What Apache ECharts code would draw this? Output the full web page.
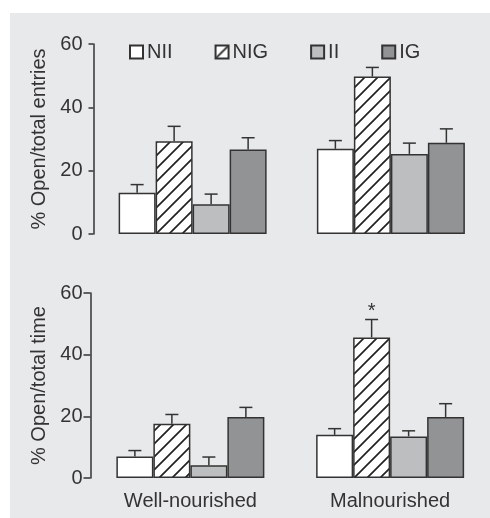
<!DOCTYPE html>
<html>
<head>
<meta charset="utf-8">
<script src="https://cdn.jsdelivr.net/npm/echarts@6/dist/echarts.min.js"></script>
<style>
  html, body { margin: 0; padding: 0; background: #fff; }
  #bg { position: absolute; left: 10px; top: 13px; width: 480px; height: 505px; background: #e8e9eb; }
  #chart { position: absolute; left: 0; top: 0; width: 490px; height: 518px; }
</style>
</head>
<body>
<div id="bg"></div>
<div id="chart"></div>
<script>
// groups on the x axis
const groups = ["Well-nourished", "Malnourished"];
const seriesNames = ["NII", "NIG", "II", "IG"];
const yTicks = [0, 20, 40, 60];

// % open / total entries  (rows follow seriesNames, cols follow groups)
const entriesMean = [
  [13.0, 26.9],
  [29.3, 49.7],
  [9.4, 25.3],
  [26.7, 28.8],
];
const entriesSem = [
  [2.6, 2.6],
  [4.7, 2.9],
  [3.2, 3.4],
  [3.7, 4.4],
];

// % open / total time
const timeMean = [
  [7.0, 14.0],
  [17.6, 45.6],
  [4.1, 13.5],
  [19.8, 19.8],
];
const timeSem = [
  [1.9, 2.0],
  [3.0, 5.8],
  [2.7, 1.8],
  [3.1, 4.3],
];
// significance marks (*) on the time panel
const timeSig = [
  [0, 0],
  [0, 1],
  [0, 0],
  [0, 0],
];

const BAR_W = 37;
const INK = "#333";

function hatch() {
  const s = 13;
  const c = document.createElement("canvas");
  c.width = s;
  c.height = s;
  const g = c.getContext("2d");
  g.fillStyle = "#fff";
  g.fillRect(0, 0, s, s);
  g.strokeStyle = "#222";
  g.lineWidth = 1.7;
  g.beginPath();
  g.moveTo(-1, s + 1);
  g.lineTo(s + 1, -1);
  g.moveTo(-2, 2);
  g.lineTo(2, -2);
  g.moveTo(s - 2, s + 2);
  g.lineTo(s + 2, s - 2);
  g.stroke();
  return c;
}

const fills = ["#ffffff", { image: hatch(), repeat: "repeat" }, "#bdbec0", "#929395"];

function barSeries(means, axis) {
  return seriesNames.map((name, i) => ({
    name,
    type: "bar",
    xAxisIndex: axis,
    yAxisIndex: axis,
    barWidth: BAR_W,
    barGap: "0%",
    data: means[i],
    itemStyle: { color: fills[i], borderColor: INK, borderWidth: 1.5 },
    emphasis: { disabled: true },
  }));
}

function errSeries(means, sems, sig, axis) {
  const data = [];
  seriesNames.forEach((n, i) => {
    groups.forEach((g, j) => {
      data.push([j, i, means[i][j], sems[i][j], sig ? sig[i][j] : 0]);
    });
  });
  return {
    type: "custom",
    xAxisIndex: axis,
    yAxisIndex: axis,
    silent: true,
    z: 5,
    encode: { x: 0, y: 2 },
    data,
    renderItem(params, api) {
      const g = api.value(0);
      const s = api.value(1);
      const m = api.value(2);
      const e = api.value(3);
      const base = api.coord([g, m]);
      const top = api.coord([g, m + e]);
      const x = base[0] + (s - 1.5) * BAR_W;
      const style = { stroke: INK, lineWidth: 1.5 };
      const children = [
        { type: "line", shape: { x1: x, y1: base[1], x2: x, y2: top[1] }, style },
        { type: "line", shape: { x1: x - 6.5, y1: top[1], x2: x + 6.5, y2: top[1] }, style },
      ];
      if (api.value(4)) {
        children.push({
          type: "text",
          style: {
            text: "*",
            x: x,
            y: top[1] + 2,
            align: "center",
            verticalAlign: "bottom",
            fontSize: 20,
            fontFamily: "Liberation Sans",
            fill: INK,
          },
        });
      }
      return { type: "group", children };
    },
  };
}

const font = { fontFamily: "Liberation Sans", fontSize: 20, color: INK };

function yAxisOf(gridIndex, name, nameGap, tickLen, labelMargin) {
  return {
    type: "value",
    gridIndex,
    min: yTicks[0],
    max: yTicks[yTicks.length - 1],
    interval: 20,
    name,
    nameLocation: "middle",
    nameGap,
    nameTextStyle: font,
    axisLine: { show: true, lineStyle: { color: INK, width: 1.5 } },
    axisTick: { show: true, length: tickLen, lineStyle: { color: INK, width: 1.5 } },
    axisLabel: Object.assign({ margin: labelMargin }, font),
    splitLine: { show: false },
  };
}

const chart = echarts.init(document.getElementById("chart"));
chart.setOption({
  animation: false,
  textStyle: { fontFamily: "Liberation Sans" },
  legend: {
    data: seriesNames,
    left: 124,
    top: 37,
    icon: "rect",
    itemWidth: 13,
    itemHeight: 13,
    itemGap: 42,
    textStyle: Object.assign({ padding: [0, 0, 0, -1] }, font),
    selectedMode: false,
  },
  grid: [
    { left: 93.5, top: 44, width: 404, height: 190 },
    { left: 90.5, top: 293, width: 408, height: 185 },
  ],
  xAxis: [
    {
      type: "category",
      gridIndex: 0,
      data: groups,
      axisLine: { show: false },
      axisTick: { show: false },
      axisLabel: { show: false },
    },
    {
      type: "category",
      gridIndex: 1,
      data: groups,
      axisLine: { show: false },
      axisTick: { show: false },
      axisLabel: Object.assign({ margin: 13 }, font),
    },
  ],
  yAxis: [
    yAxisOf(0, "% Open/total entries", 37, 5, 11),
    yAxisOf(1, "% Open/total time", 34, 7, 8),
  ],
  series: [
    ...barSeries(entriesMean, 0),
    ...barSeries(timeMean, 1),
    errSeries(entriesMean, entriesSem, null, 0),
    errSeries(timeMean, timeSem, timeSig, 1),
  ],
});
</script>
</body>
</html>
